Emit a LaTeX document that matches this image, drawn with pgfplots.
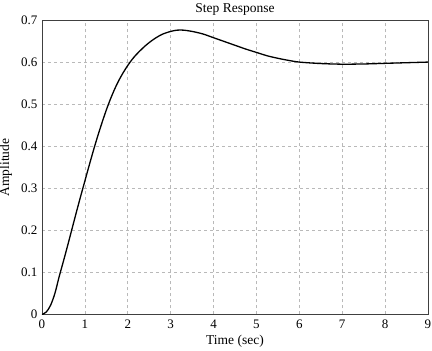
\documentclass[border=0pt]{standalone}
\usepackage{pgfplots}
\pgfplotsset{compat=1.18}
\usepackage{fontspec}
\setmainfont{Liberation Serif}
\begin{document}
\begin{tikzpicture}
\path[use as bounding box] (-42pt,-36.5pt) rectangle (390pt,314.5pt);
\begin{axis}[
  at={(0pt,0pt)}, anchor=south west,
  scale only axis, width=386pt, height=294pt,
  xmin=0, xmax=9, ymin=0, ymax=0.7,
  xtick={0,1,...,9},
  ytick={0,0.1,0.2,0.3,0.4,0.5,0.6,0.7},
  yticklabels={0,0.1,0.2,0.3,0.4,0.5,0.6,0.7},
  xticklabels={0,1,2,3,4,5,6,7,8,9},
  major tick length=0pt,
  grid=major,
  major grid style={gray!55, line width=0.6pt, dash pattern=on 3pt off 3pt},
  axis line style={black!75, line width=0.8pt},
  tick label style={font=\fontsize{13}{15}\selectfont},
  xticklabel style={yshift=-2pt},
  yticklabel style={xshift=-1pt},
  title={Step Response},
  title style={font=\fontsize{13.5}{15}\selectfont, at={(axis description cs:0.5,1)}, anchor=center, yshift=5pt},
  xlabel={Time (sec)},
  xlabel style={font=\fontsize{13.5}{15}\selectfont, at={(axis description cs:0.5,0)}, anchor=center, yshift=-26.5pt},
  ylabel={Amplitude},
  ylabel style={font=\fontsize{13.5}{15}\selectfont, at={(axis description cs:0,0.5)}, anchor=center, yshift=36pt},
  clip=true,
]
\addplot[black, line width=1.3pt, smooth, tension=0.5] coordinates {
(0,0) (0.1,0.006) (0.2,0.022) (0.3,0.05) (0.4,0.09) (0.5,0.127) (0.6,0.165)
(0.7,0.204) (0.8,0.243) (0.9,0.281) (1.0,0.318) (1.1,0.355) (1.2,0.391)
(1.3,0.425) (1.4,0.457) (1.5,0.487) (1.6,0.514) (1.7,0.538) (1.8,0.559)
(1.9,0.577) (2.0,0.593) (2.1,0.607) (2.2,0.619) (2.4,0.639) (2.6,0.655)
(2.8,0.667) (3.0,0.674) (3.15,0.677) (3.3,0.677) (3.5,0.674) (3.75,0.668)
(4.0,0.659) (4.25,0.650) (4.5,0.641) (4.75,0.632) (5.0,0.624) (5.25,0.616)
(5.5,0.610) (5.75,0.605) (6.0,0.601) (6.5,0.5975) (7.0,0.596) (7.5,0.5965)
(8.0,0.598) (8.5,0.5995) (9.0,0.601)
};
\end{axis}
\end{tikzpicture}
\end{document}
